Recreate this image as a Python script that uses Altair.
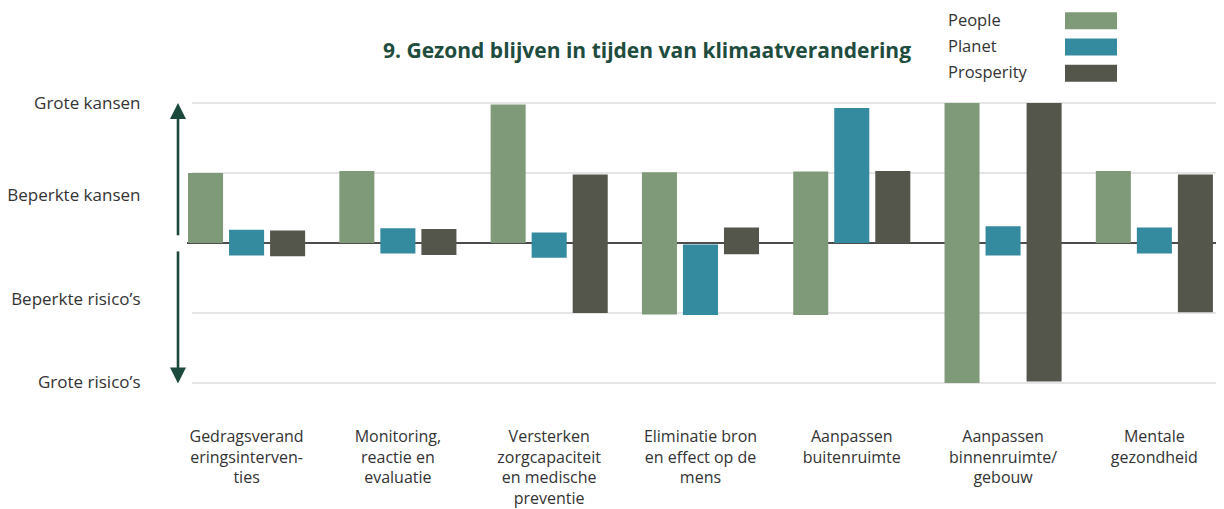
import altair as alt
import pandas as pd

# ---------------- data ----------------
title_text = "9. Gezond blijven in tijden van klimaatverandering"
categories = [
    "Gedragsverand|eringsinterven-|ties",
    "Monitoring,|reactie en|evaluatie",
    "Versterken|zorgcapaciteit|en medische|preventie",
    "Eliminatie bron|en effect op de|mens",
    "Aanpassen|buitenruimte",
    "Aanpassen|binnenruimte/|gebouw",
    "Mentale|gezondheid",
]
series = ["People", "Planet", "Prosperity"]
colors = ["#7f9a78", "#348a9e", "#54564c"]

people_top = [1.00, 1.03, 1.98, 1.01, 1.02, 2.00, 1.03]
people_bottom = [0.0, 0.0, 0.0, -1.02, -1.03, -2.00, 0.0]
planet_top = [0.19, 0.21, 0.15, -0.02, 1.93, 0.24, 0.22]
planet_bottom = [-0.18, -0.15, -0.21, -1.03, 0.0, -0.18, -0.15]
prosperity_top = [0.18, 0.20, 0.98, 0.22, 1.03, 2.00, 0.98]
prosperity_bottom = [-0.19, -0.17, -1.00, -0.16, 0.0, -1.98, -0.99]

level_values = [2, 0.68, -0.81, -2]
level_labels = ["Grote kansen", "Beperkte kansen", "Beperkte risico’s", "Grote risico’s"]
grid_values = [2, 1, -1, -2]

arrow_top = [1.9, -0.12]
arrow_bottom = [0.11, -1.9]
arrowhead_values = [1.886, -1.893]
arrowhead_shapes = ["M0,-1L1,1L-1,1Z", "M0,1L1,-1L-1,-1Z"]

# ---------------- tables ----------------
tops = [people_top, planet_top, prosperity_top]
bottoms = [people_bottom, planet_bottom, prosperity_bottom]
rows = []
for s, t_list, b_list in zip(series, tops, bottoms):
    for c, t, b in zip(categories, t_list, b_list):
        rows.append({"category": c, "series": s, "top": t, "bottom": b})
bars_df = pd.DataFrame(rows)
grid_df = pd.DataFrame({"v": grid_values})
zero_df = pd.DataFrame({"v": [0]})
arrow_df = pd.DataFrame({"v": arrow_top, "v2": arrow_bottom})
head_df = pd.DataFrame({"v": arrowhead_values, "shape": arrowhead_shapes})
legend_df = pd.DataFrame({"series": series})
title_df = pd.DataFrame({"t": [title_text]})

FONT = "Open Sans"
TEXT = "#333333"
GREEN = "#1b4a3c"
W = 1042

label_expr = " : ".join(
    f"abs(datum.value - ({v})) < 0.01 ? '{l}'" for v, l in zip(level_values, level_labels)
) + " : ''"

yscale = alt.Scale(domain=[-2.143, 2.143], nice=False, zero=False)
yaxis = alt.Axis(
    values=level_values, labelExpr=label_expr, grid=False, domain=False, ticks=False,
    tickSize=0, labelPadding=34, labelFontSize=17, labelFont=FONT, labelColor=TEXT,
    labelOverlap=False, labelFlush=False, title=None, labelLimit=300,
)

def Y(field):
    return alt.Y(field, type="quantitative", scale=yscale, axis=yaxis, title=None)

color_enc = alt.Color("series:N", sort=series, scale=alt.Scale(domain=series, range=colors), legend=None)

grid = alt.Chart(grid_df).mark_rule(color="#dcdcdc", strokeWidth=1.5).encode(
    y=Y("v"), x=alt.value(18), x2=alt.value(W)
)
zero = alt.Chart(zero_df).mark_rule(color="#111111", strokeWidth=1.5).encode(
    y=Y("v"), x=alt.value(13), x2=alt.value(W)
)
arrow = alt.Chart(arrow_df).mark_rule(color=GREEN, strokeWidth=2.6).encode(
    y=Y("v"), y2="v2", x=alt.value(4)
)
heads = alt.Chart(head_df).mark_point(filled=True, color=GREEN, opacity=1, size=256, strokeWidth=0).encode(
    y=Y("v"), x=alt.value(4), shape=alt.Shape("shape:N", scale=None)
)

bars = alt.Chart(bars_df).mark_bar().encode(
    x=alt.X(
        "category:N", sort=categories,
        scale=alt.Scale(paddingInner=0.226, paddingOuter=0.0565, align=0.82),
        axis=alt.Axis(
            labelExpr="split(datum.label, '|')", labelAngle=0, ticks=False, tickSize=0,
            domain=False, labelPadding=35.5, labelFontSize=16, labelFont=FONT,
            labelColor=TEXT, labelLineHeight=20.6, title=None, labelLimit=300,
        ),
    ),
    xOffset=alt.XOffset("series:N", sort=series, scale=alt.Scale(paddingInner=0.146)),
    y=Y("top"),
    y2="bottom",
    color=color_enc,
)

main = alt.layer(grid, zero, arrow, heads, bars)

# ---- custom legend: labels left, swatches right ----
leg_y = alt.Y("series:N", sort=series,
              scale=alt.Scale(type="point", domain=series, range=[-72.2, -19.7], padding=0),
              axis=None, title=None)
swatch = alt.Chart(legend_df).mark_point(
    shape="M-1,-0.327H1V0.327H-1Z", size=2704, filled=True, opacity=1, strokeWidth=0
).encode(y=leg_y, x=alt.value(917), color=color_enc)
leg_text = alt.Chart(legend_df).mark_text(
    align="left", baseline="middle", fontSize=16.5, font=FONT, color=TEXT
).encode(y=leg_y, x=alt.value(774), text="series:N")
legend = alt.layer(swatch, leg_text)

title = alt.Chart(title_df).mark_text(
    align="center", baseline="alphabetic", fontSize=21, font=FONT, fontWeight="bold", color="#1e4d3e"
).encode(x=alt.value(473), y=alt.value(-34.7), text="t:N")

chart = alt.layer(main, legend, title).resolve_scale(y="independent").properties(
    width=W,
    height=300,
    autosize=alt.AutoSizeParams(type="none"),
    padding={"left": 166, "top": 85, "right": 0, "bottom": 115},
).configure_view(stroke=None)

chart.save("out.html", embed_options={"renderer": "svg", "actions": False})
